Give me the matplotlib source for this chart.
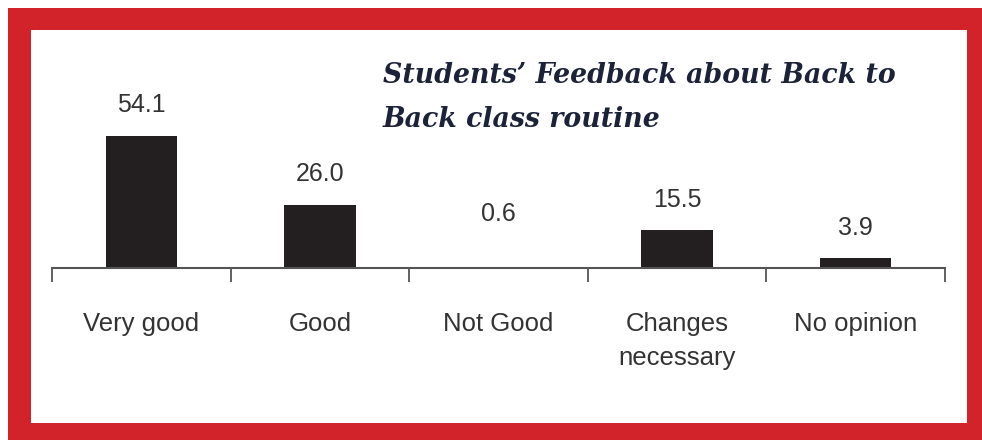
import matplotlib
matplotlib.use("Agg")
import matplotlib.pyplot as plt
from matplotlib.patches import Rectangle

categories = ["Very good", "Good", "Not Good", "Changes\nnecessary", "No opinion"]
values = [54.1, 26.0, 0.6, 15.5, 3.9]
value_labels = ["54.1", "26.0", "0.6", "15.5", "3.9"]
title = "Students\u2019 Feedback about Back to\nBack class routine"

W, H = 982, 440
fig = plt.figure(figsize=(W / 100, H / 100), dpi=100)
fig.patch.set_facecolor("white")

# red frame
fig.patches.append(Rectangle((8 / W, 0), 1 - 8 / W, 1 - 8 / H, transform=fig.transFigure,
                             facecolor="#d2232a", edgecolor="none", zorder=0))
fig.patches.append(Rectangle((31 / W, 17 / H), (967 - 31) / W, (423 - 30) / H,
                             transform=fig.transFigure, facecolor="white",
                             edgecolor="none", zorder=0))

x0, x1 = 52, 945
base, top = 268, 30
ax = fig.add_axes([x0 / W, 1 - base / H, (x1 - x0) / W, (base - top) / H])
ax.set_zorder(2)
ax.patch.set_alpha(0)
xs = list(range(len(categories)))
ax.bar(xs, values, width=0.4, color="#231f20")
ax.set_xlim(-0.5, len(categories) - 0.5)
ax.set_ylim(0, (base - top) / 2.44)

for s in ["top", "right", "left"]:
    ax.spines[s].set_visible(False)
ax.spines["bottom"].set_color("#555555")
ax.spines["bottom"].set_linewidth(1.5)
ax.set_yticks([])
ax.set_xticks([i - 0.5 for i in range(len(categories) + 1)])
ax.set_xticklabels([])
ax.tick_params(axis="x", direction="out", length=10, width=1.3, color="#555555")

for i, c in enumerate(categories):
    ax.annotate(c, (i, 0), xytext=(0, -32), textcoords="offset points",
                ha="center", va="top", fontsize=18.5, color="#333333",
                family="Liberation Sans", linespacing=1.5)

for i, (v, lab) in enumerate(zip(values, value_labels)):
    off = 22 if v > 2 else 38
    ax.annotate(lab, (i, v), xytext=(0, off), textcoords="offset points",
                ha="center", va="center", fontsize=18, color="#333333",
                family="Liberation Sans")

fig.text(383 / W, 1 - 62 / H, title, ha="left", va="top", fontsize=19.3,
         fontweight="bold", fontstyle="italic", family="DejaVu Serif",
         color="#1c2238", linespacing=1.8, zorder=3)

fig.savefig("out.png", dpi=100)
